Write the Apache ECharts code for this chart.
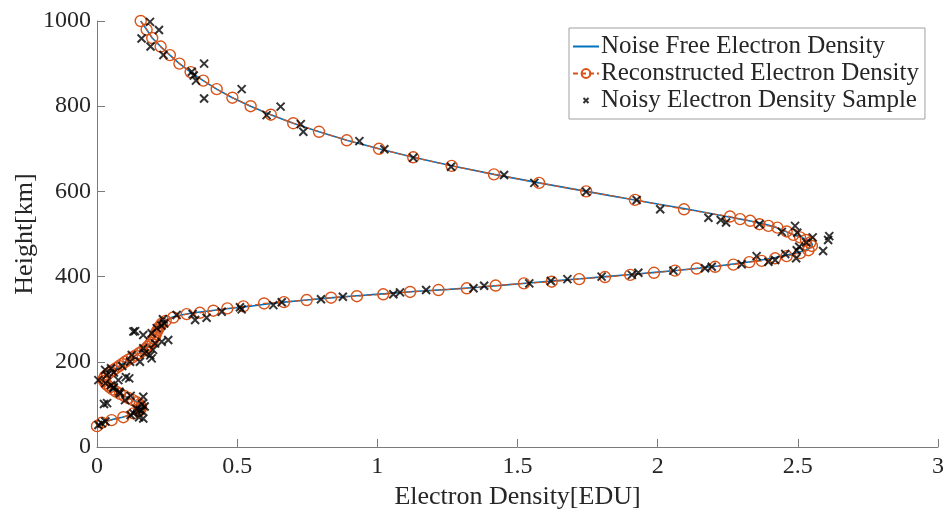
<!DOCTYPE html>
<html>
<head>
<meta charset="utf-8">
<title>Electron Density Profile</title>
<script src="https://cdn.jsdelivr.net/npm/echarts@6/dist/echarts.min.js"></script>
<style>
  html, body { margin: 0; padding: 0; background: #fff; }
  #chart { width: 948px; height: 511px; }
</style>
</head>
<body>
<div id="chart"></div>
<script>
// Noise-free electron density profile (height in km, density in EDU)
const noiseFreeHeight = [
  50, 55, 60, 65, 70, 75, 80, 85, 90, 95, 100, 105, 110, 115, 120, 125, 130, 135, 140, 145,
  150, 155, 160, 165, 170, 175, 180, 185, 190, 195, 200, 205, 210, 215, 220, 225, 230, 235, 240, 245,
  250, 255, 260, 265, 270, 275, 280, 285, 290, 295, 300, 305, 310, 315, 320, 325, 330, 335, 340, 345,
  350, 355, 360, 365, 370, 375, 380, 385, 390, 395, 400, 405, 410, 415, 420, 425, 430, 435, 440, 445,
  450, 455, 460, 465, 470, 475, 480, 485, 490, 495, 500, 505, 510, 515, 520, 525, 530, 535, 540, 550,
  560, 570, 580, 590, 600, 620, 640, 660, 680, 700, 720, 740, 760, 780, 800, 820, 840, 860, 880, 900,
  920, 940, 960, 980, 1000
];
const noiseFreeDensity = [
  0.0, 0.012, 0.03, 0.058, 0.09, 0.118, 0.138, 0.15, 0.156, 0.157, 0.152, 0.142, 0.128, 0.112, 0.097, 0.082, 0.068, 0.056, 0.046, 0.037,
  0.03, 0.025, 0.024, 0.028, 0.036, 0.046, 0.057, 0.068, 0.079, 0.09, 0.1, 0.112, 0.125, 0.138, 0.15, 0.162, 0.172, 0.18, 0.187, 0.193,
  0.198, 0.203, 0.207, 0.21, 0.213, 0.217, 0.221, 0.226, 0.232, 0.24, 0.252, 0.27, 0.3, 0.345, 0.405, 0.47, 0.54, 0.6, 0.667, 0.748,
  0.832, 0.927, 1.03, 1.13, 1.255, 1.36, 1.45, 1.54, 1.63, 1.725, 1.812, 1.905, 1.99, 2.075, 2.15, 2.215, 2.275, 2.33, 2.38, 2.42,
  2.455, 2.49, 2.52, 2.538, 2.548, 2.552, 2.548, 2.537, 2.52, 2.5, 2.478, 2.46, 2.44, 2.425, 2.4, 2.37, 2.335, 2.295, 2.255, 2.175,
  2.094, 2.005, 1.919, 1.83, 1.745, 1.577, 1.416, 1.265, 1.128, 1.006, 0.891, 0.792, 0.700, 0.620, 0.548, 0.483, 0.427, 0.379, 0.334, 0.294,
  0.260, 0.227, 0.197, 0.177, 0.156
];

// Reconstructed profile, ordered from the top of the profile downwards
const reconHeight = [
  1000, 980, 960, 940, 920, 900, 880, 860, 840, 820, 800, 780, 760, 740, 720, 700, 680, 660, 640, 620,
  600, 580, 558, 541, 535, 531, 523, 519, 515, 506, 498, 492, 486, 480, 472, 462, 455, 448, 443, 437,
  434, 428, 423, 419, 414, 409, 404, 399, 394, 388, 384, 379, 372.5, 368.5, 364, 358.5, 354, 350.5, 345, 340,
  337, 330, 325.5, 320, 315, 312, 304, 296, 290, 285, 280, 275, 270, 265, 260, 255, 250, 245, 240, 235,
  230, 225, 220, 215, 210, 205, 200, 195, 190, 185, 180, 175, 170, 165, 160, 155, 150, 145, 140, 135,
  130, 125, 120, 115, 110, 105, 100, 95, 90, 85, 79, 70, 63, 57, 49
];
const reconDensity = [
  0.156, 0.177, 0.197, 0.227, 0.260, 0.294, 0.334, 0.379, 0.427, 0.483, 0.548, 0.620, 0.700, 0.792, 0.891, 1.006, 1.128, 1.265, 1.416, 1.577,
  1.745, 1.919, 2.094, 2.258, 2.294, 2.33, 2.363, 2.395, 2.427, 2.46, 2.484, 2.508, 2.529, 2.544, 2.55, 2.538, 2.508, 2.46, 2.419, 2.371,
  2.327, 2.27, 2.205, 2.139, 2.062, 1.987, 1.902, 1.812, 1.72, 1.622, 1.523, 1.422, 1.319, 1.218, 1.117, 1.021, 0.927, 0.835, 0.748, 0.667,
  0.596, 0.522, 0.465, 0.415, 0.367, 0.32, 0.272, 0.245, 0.232, 0.226, 0.221, 0.217, 0.213, 0.21, 0.207, 0.203, 0.198, 0.193, 0.187, 0.18,
  0.172, 0.162, 0.15, 0.138, 0.125, 0.112, 0.1, 0.09, 0.079, 0.068, 0.057, 0.046, 0.036, 0.028, 0.024, 0.025, 0.03, 0.037, 0.046, 0.056,
  0.068, 0.082, 0.097, 0.112, 0.128, 0.142, 0.152, 0.157, 0.156, 0.15, 0.13, 0.094, 0.052, 0.017, 0.0
];

// Noisy samples of the electron density
const noisyHeight = [
  998, 979, 959, 940, 920, 900, 881, 872, 860, 840, 818, 799, 779, 758, 740, 718, 699, 679, 658, 638.5,
  620, 599, 580, 558, 538, 533, 527, 523, 519, 505, 503, 495, 492, 486, 480, 470, 462, 460, 453, 448,
  443, 439, 435, 429, 423, 419.5, 414, 409, 404, 400, 394, 389.7, 384, 378.6, 372.5, 368.5, 363, 358.5, 352.8, 346.7,
  339.7, 333, 328, 323, 317.6, 312, 310, 303.5, 298, 300, 290, 285, 279, 272, 271, 267, 263, 251, 247, 243,
  232, 228, 220, 216, 215, 208, 200, 200, 190, 185, 181, 175, 169, 164, 161, 157, 157, 150, 145, 140,
  138, 130, 126, 120, 118, 110, 103, 101, 100, 95, 90, 87, 85, 79, 75, 70, 67, 60, 55.5, 51.6
];
const noisyDensity = [
  0.189, 0.221, 0.159, 0.191, 0.237, 0.382, 0.338, 0.345, 0.353, 0.516, 0.382, 0.655, 0.605, 0.727, 0.736, 0.936, 1.025, 1.128, 1.263, 1.452,
  1.56, 1.745, 1.925, 2.009, 2.181, 2.225, 2.244, 2.363, 2.49, 2.443, 2.498, 2.612, 2.553, 2.608, 2.53, 2.505, 2.496, 2.59, 2.455, 2.353,
  2.494, 2.419, 2.395, 2.3, 2.193, 2.169, 2.056, 1.931, 1.908, 1.8, 1.678, 1.619, 1.542, 1.381, 1.343, 1.174, 1.081, 1.057, 0.877, 0.799,
  0.659, 0.629, 0.51, 0.516, 0.445, 0.341, 0.284, 0.391, 0.35, 0.235, 0.24, 0.23, 0.213, 0.136, 0.13, 0.195, 0.165, 0.254, 0.231, 0.207,
  0.165, 0.2, 0.17, 0.124, 0.19, 0.195, 0.153, 0.118, 0.09, 0.05, 0.029, 0.06, 0.035, 0.103, 0.115, 0.005, 0.076, 0.03, 0.05, 0.06,
  0.058, 0.08, 0.082, 0.12, 0.165, 0.1, 0.036, 0.025, 0.16, 0.17, 0.14, 0.153, 0.16, 0.13, 0.12, 0.15, 0.165, 0.03, 0.017, 0.005
];

const pairs = (xs, hs) => xs.map((x, i) => [x, hs[i]]);

const FONT = '"Liberation Serif", "Times New Roman", serif';
const TEXT_COLOR = '#262626';
const AXIS_COLOR = '#7a7a7a';
const CROSS = 'path://M0,0L10,10M10,0L0,10';
// same cross, padded so the legend draws it smaller than the row height
const CROSS_SMALL = 'path://M-6,-6M16,16M0,0L10,10M10,0L0,10';

const chart = echarts.init(document.getElementById('chart'), null, { renderer: 'canvas' });

chart.setOption({
  backgroundColor: '#ffffff',
  animation: false,
  grid: { left: 97, right: 10, top: 21, bottom: 64, containLabel: false, outerBoundsMode: 'none' },
  legend: {
    orient: 'vertical',
    left: 569,
    top: 28,
    padding: [6, 6, 6, 3],
    itemGap: 2,
    itemWidth: 26,
    itemHeight: 11,
    backgroundColor: '#ffffff',
    borderColor: '#a0a0a0',
    borderWidth: 1,
    borderRadius: 0,
    textStyle: { fontFamily: FONT, fontSize: 25, color: TEXT_COLOR, lineHeight: 21, padding: [0, 0, 0, -3] },
    data: [
      { name: 'Noise Free Electron Density', itemStyle: { color: 'rgba(0,0,0,0)', borderWidth: 0 } },
      { name: 'Reconstructed Electron Density' },
      { name: 'Noisy Electron Density Sample', icon: CROSS_SMALL, itemStyle: { color: 'none', borderColor: '#000', borderWidth: 2 } }
    ]
  },
  xAxis: {
    type: 'value',
    min: 0,
    max: 3,
    interval: 0.5,
    name: 'Electron Density[EDU]',
    nameLocation: 'middle',
    nameGap: 35,
    nameTextStyle: { fontFamily: FONT, fontSize: 26, color: TEXT_COLOR },
    axisLine: { show: true, onZero: false, lineStyle: { color: AXIS_COLOR, width: 1 } },
    axisTick: { show: true, inside: true, length: 8, lineStyle: { color: AXIS_COLOR } },
    axisLabel: { fontFamily: FONT, fontSize: 24, color: TEXT_COLOR, margin: 8, formatter: v => String(v) },
    splitLine: { show: false }
  },
  yAxis: {
    type: 'value',
    min: 0,
    max: 1000,
    interval: 200,
    name: 'Height[km]',
    nameLocation: 'middle',
    nameGap: 59,
    nameMoveOverlap: false,
    nameTextStyle: { fontFamily: FONT, fontSize: 26, color: TEXT_COLOR },
    axisLine: { show: true, onZero: false, lineStyle: { color: AXIS_COLOR, width: 1 } },
    axisTick: { show: true, inside: true, length: 8, lineStyle: { color: AXIS_COLOR } },
    axisLabel: { fontFamily: FONT, fontSize: 24, color: TEXT_COLOR, margin: 6, formatter: v => String(v) },
    splitLine: { show: false }
  },
  series: [
    {
      name: 'Noise Free Electron Density',
      type: 'line',
      data: pairs(noiseFreeDensity, noiseFreeHeight),
      symbol: 'none',
      smooth: false,
      lineStyle: { color: '#0072BD', width: 1.6 },
      itemStyle: { color: '#0072BD' },
      z: 2
    },
    {
      name: 'Reconstructed Electron Density',
      type: 'line',
      data: pairs(reconDensity, reconHeight),
      symbol: 'circle',
      symbolSize: 11,
      showAllSymbol: true,
      lineStyle: { color: '#D95319', width: 1.2, type: [5, 3] },
      itemStyle: { color: 'rgba(0,0,0,0)', borderColor: '#D95319', borderWidth: 1.4 },
      z: 3
    },
    {
      name: 'Noisy Electron Density Sample',
      type: 'scatter',
      data: pairs(noisyDensity, noisyHeight),
      symbol: CROSS,
      symbolSize: 8,
      itemStyle: { color: 'none', borderColor: '#000000', borderWidth: 2 },
      z: 4
    }
  ]
});
</script>
</body>
</html>
